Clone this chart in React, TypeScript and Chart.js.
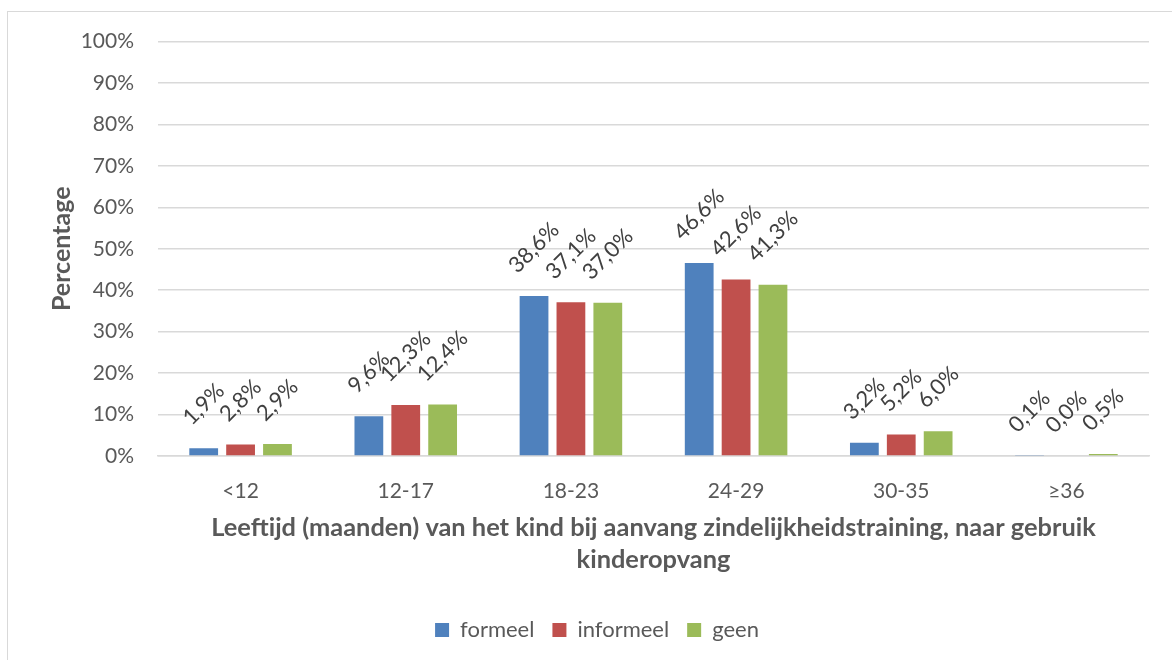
import React, { useEffect, useRef } from "react";
import { Chart, registerables } from "chart.js";

Chart.register(...registerables);

const categories = ["<12", "12-17", "18-23", "24-29", "30-35", "≥36"];
const seriesNames = ["formeel", "informeel", "geen"];
const formeel = [1.9, 9.6, 38.6, 46.6, 3.2, 0.1];
const informeel = [2.8, 12.3, 37.1, 42.6, 5.2, 0.0];
const geen = [2.9, 12.4, 37.0, 41.3, 6.0, 0.5];
const colors = ["#4F81BD", "#C0504D", "#9BBB59"];
const yTicks = [0, 10, 20, 30, 40, 50, 60, 70, 80, 90, 100];
const xTitle = [
  "Leeftijd (maanden) van het kind bij aanvang zindelijkheidstraining, naar gebruik",
  "kinderopvang",
];
const yTitle = "Percentage";

const FONT = "Lato";

const barLabels = {
  id: "barLabels",
  afterDatasetsDraw(chart: any) {
    const ctx = chart.ctx;
    ctx.save();
    ctx.font = `22px ${FONT}`;
    ctx.fillStyle = "#404040";
    chart.data.datasets.forEach((ds: any, di: number) => {
      const meta = chart.getDatasetMeta(di);
      meta.data.forEach((bar: any, i: number) => {
        const v = ds.data[i] as number;
        const text = v.toFixed(1).replace(".", ",") + "%";
        const w = ctx.measureText(text).width;
        const h = 22;
        const off = 19 + (w + h) / (2 * Math.SQRT2);
        ctx.save();
        ctx.translate(bar.x, bar.y - off);
        ctx.rotate(-Math.PI / 4);
        ctx.textAlign = "center";
        ctx.textBaseline = "middle";
        ctx.fillText(text, 0, 0);
        ctx.restore();
      });
    });
    ctx.restore();
  },
};

export default function App() {
  const ref = useRef<HTMLCanvasElement | null>(null);
  useEffect(() => {
    if (!ref.current) return;
    const data = [formeel, informeel, geen];
    const chart = new Chart(ref.current, {
      type: "bar",
      data: {
        labels: categories,
        datasets: seriesNames.map((name, i) => ({
          label: name,
          data: data[i],
          backgroundColor: colors[i],
          borderWidth: 0,
          categoryPercentage: 0.67,
          barPercentage: 0.78,
        })),
      },
      options: {
        responsive: false,
        animation: false,
        layout: { padding: { top: 15, right: 37, bottom: 14, left: 37 } },
        font: { family: FONT },
        plugins: {
          legend: {
            position: "bottom",
            labels: {
              boxWidth: 14,
              boxHeight: 14,
              padding: 18,
              color: "#595959",
              font: { family: FONT, size: 22 },
            },
          },
          tooltip: { enabled: false },
        },
        scales: {
          x: {
            grid: { display: false },
            border: { display: true, color: "#D9D9D9", width: 1.5 },
            ticks: {
              color: "#595959",
              font: { family: FONT, size: 21 },
              padding: 15,
            },
            title: {
              display: true,
              text: xTitle,
              color: "#595959",
              font: { family: FONT, size: 25.4, weight: "bold", lineHeight: 32 / 25.4 },
              padding: { top: 0, bottom: 25 },
            },
            afterFit(scale: any) {
              scale.height = 145;
            },
          },
          y: {
            min: 0,
            max: 100,
            afterBuildTicks(scale: any) {
              scale.ticks = yTicks.map((v) => ({ value: v }));
            },
            grid: { color: "#D9D9D9", lineWidth: 1.5, drawTicks: false },
            border: { display: false },
            ticks: {
              color: "#595959",
              font: { family: FONT, size: 21 },
              padding: 24,
              callback: (v: any) => v + "%",
            },
            title: {
              display: true,
              text: yTitle,
              color: "#595959",
              font: { family: FONT, size: 25, weight: "bold", lineHeight: 1.2 },
              padding: { top: 2, bottom: 0 },
            },
            afterFit(scale: any) {
              scale.width = 113;
            },
          },
        },
      },
      plugins: [barLabels],
    } as any);
    return () => chart.destroy();
  }, []);

  return (
    <div
      style={{
        position: "fixed",
        left: 0,
        top: 0,
        width: "100vw",
        height: "100vh",
        overflow: "hidden",
        background: "#fff",
      }}
    >
      <div
        style={{
          position: "absolute",
          left: 7,
          top: 11,
          width: 1180,
          height: 700,
          border: "1px solid #D9D9D9",
          boxSizing: "border-box",
        }}
      >
        <canvas
          ref={ref}
          width={1178}
          height={660}
          style={{ display: "block", position: "absolute", left: 0, top: -7 }}
        />
      </div>
    </div>
  );
}
